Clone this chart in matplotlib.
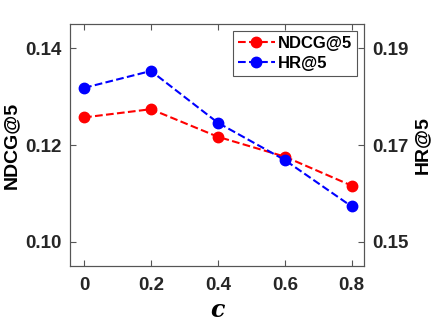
import numpy as np
import matplotlib.pyplot as plt

c = [0, 0.2, 0.4, 0.6, 0.8]
ndcg = [0.1257, 0.1274, 0.1217, 0.1176, 0.1116]
hr = [0.1818, 0.1853, 0.1746, 0.1669, 0.1573]

plt.rcParams['font.family'] = ['Liberation Sans', 'DejaVu Sans']
plt.rcParams['font.weight'] = 'bold'

fig = plt.figure(figsize=(4.36, 3.27), dpi=100)
ax1 = fig.add_axes([0.1606, 0.1865, 0.6744, 0.7401])
ax2 = ax1.twinx()

l1, = ax1.plot(c, ndcg, 'r--', marker='o', markersize=7.5, linewidth=1.5, label='NDCG@5')
l2, = ax2.plot(c, hr, 'b--', marker='o', markersize=7.5, linewidth=1.5, label='HR@5')

ax1.set_xlim(-0.042, 0.837)
ax1.set_ylim(0.095, 0.145)
ax2.set_ylim(0.145, 0.195)
ax1.set_xticks(c)
ax1.set_xticklabels(['0', '0.2', '0.4', '0.6', '0.8'])
ax1.set_yticks([0.10, 0.12, 0.14])
ax1.set_yticklabels(['0.10', '0.12', '0.14'])
ax2.set_yticks([0.15, 0.17, 0.19])
ax2.set_yticklabels(['0.15', '0.17', '0.19'])

for ax in (ax1, ax2):
    for s in ax.spines.values():
        s.set_color('#555555')
        s.set_linewidth(0.8)
    ax.tick_params(direction='in', length=4, color='#555555', labelcolor='#262626',
                   labelsize=13.5, pad=6)
ax1.tick_params(axis='x', top=True, pad=8)
ax2.tick_params(axis='y', left=False, right=True)

ax1.set_ylabel('NDCG@5', fontsize=14, fontweight='bold')
ax2.set_ylabel('HR@5', fontsize=14, fontweight='bold')
ax1.set_xlabel('c', fontsize=17, family='DejaVu Serif', style='italic', fontweight='bold', labelpad=3)

leg = ax1.legend(handles=[l1, l2], loc='upper right', fontsize=12, fancybox=False,
                 edgecolor='#555555', framealpha=1, handlelength=2.2, handletextpad=0.2,
                 borderpad=0.3, labelspacing=0.3, borderaxespad=0.4)
leg.get_frame().set_linewidth(0.8)

fig.savefig('out.png', dpi=100)
